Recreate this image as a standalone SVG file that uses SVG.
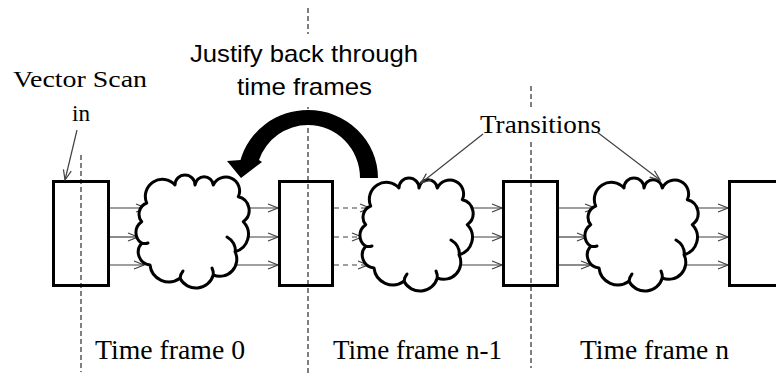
<svg xmlns="http://www.w3.org/2000/svg" xmlns:xlink="http://www.w3.org/1999/xlink" width="776" height="376" viewBox="0 0 776 376">
  <style>
    .box { fill: #ffffff; stroke: #000000; stroke-width: 3; }
    .cloud { fill: #ffffff; stroke: #000000; stroke-width: 3; stroke-linejoin: round; }
    .curl { fill: none; stroke: #000000; stroke-width: 3; stroke-linecap: round; }
    .conn { fill: none; stroke: #404040; stroke-width: 1.2; marker-end: url(#open); }
    .dconn { fill: none; stroke: #404040; stroke-width: 1.2; stroke-dasharray: 5 4; marker-end: url(#open); }
    .frame { fill: none; stroke: #000000; stroke-width: 1; stroke-dasharray: 5 3; }
    .serif { font-family: "Liberation Serif", "Times New Roman", serif; fill: #000000; }
    .sans { font-family: "Liberation Sans", Arial, sans-serif; fill: #000000; }
  </style>
  <defs>
    <marker id="open" markerUnits="userSpaceOnUse" markerWidth="12" markerHeight="10" refX="11" refY="5" orient="auto">
      <path d="M1,1 L11,5 L1,9" fill="none" stroke="#404040" stroke-width="1.2"/>
    </marker>
    <g id="cloudShape">
      <path class="cloud" d="M146.7,203 A17,17 0 0 1 175,185 A10,10 0 0 1 195,185 A9.2,9.2 0 0 1 213.3,185 A13.8,13.8 0 0 1 238.3,196.7 A14,14 0 0 1 243.3,221.7 A18,18 0 0 1 235,251.7 A17,17 0 0 1 213.3,275 A18,18 0 0 1 180,278.3 A19,19 0 0 1 150,265 A13,13 0 0 1 141.7,243.3 A13,13 0 0 1 141.7,221.7 A12,12 0 0 1 146.7,203 Z"/>
      <path class="curl" d="M227,237 A17,17 0 0 1 235.5,252"/>
      <path class="curl" d="M141.7,243.3 Q145,244 148,243"/>
      <path class="curl" d="M180,278.3 Q180.5,274 183,271"/>
      <path class="curl" d="M213.3,275 Q213.5,271 212,268"/>
    </g>
  </defs>
  <rect width="776" height="376" fill="#ffffff"/>

  <g id="connectors">
    <line class="conn" x1="110" y1="208" x2="146" y2="208"/>
    <line class="conn" x1="110" y1="237" x2="138" y2="237"/>
    <line class="conn" x1="110" y1="265" x2="144" y2="265"/>
    <line class="conn" x1="240" y1="208" x2="278" y2="208"/>
    <line class="conn" x1="240" y1="237" x2="278" y2="237"/>
    <line class="conn" x1="222" y1="265" x2="278" y2="265"/>
    <line class="dconn" x1="334" y1="208" x2="370" y2="208"/>
    <line class="dconn" x1="334" y1="237" x2="362" y2="237"/>
    <line class="dconn" x1="334" y1="265" x2="368" y2="265"/>
    <line class="conn" x1="464" y1="208" x2="502" y2="208"/>
    <line class="conn" x1="464" y1="237" x2="502" y2="237"/>
    <line class="conn" x1="446" y1="265" x2="502" y2="265"/>
    <line class="conn" x1="559" y1="208" x2="595" y2="208"/>
    <line class="conn" x1="559" y1="237" x2="587" y2="237"/>
    <line class="conn" x1="559" y1="265" x2="591" y2="265"/>
    <line class="conn" x1="689" y1="208" x2="728" y2="208"/>
    <line class="conn" x1="689" y1="237" x2="728" y2="237"/>
    <line class="conn" x1="676" y1="265" x2="728" y2="265"/>
  </g>

  <g id="box0"><rect class="box" x="53.5" y="181.5" width="55" height="104"/></g>
  <g id="cloud0"><use xlink:href="#cloudShape" href="#cloudShape"/></g>
  <g id="box1"><rect class="box" x="279.5" y="181.5" width="53" height="104"/></g>
  <g id="cloud1"><use xlink:href="#cloudShape" href="#cloudShape" transform="translate(224,3)"/></g>
  <g id="box2"><rect class="box" x="503.5" y="181.5" width="54" height="104"/></g>
  <g id="cloud2"><use xlink:href="#cloudShape" href="#cloudShape" transform="translate(449,3)"/></g>
  <g id="box3"><rect class="box" x="729.5" y="181.5" width="60" height="104"/></g>

  <g id="frame-lines">
    <line class="frame" x1="81" y1="155" x2="81" y2="372"/>
    <line class="frame" x1="308" y1="8" x2="308" y2="376"/>
    <line class="frame" x1="531" y1="86" x2="531" y2="368"/>
  </g>

  <g id="justify-arrow">
    <path d="M360,178 L378,178 A70,68 0 0 0 308,110 A70,68 0 0 0 240.5,160 L227,161 L241,178 L262,162 L259,160 A52,53 0 0 1 308,125 A52,53 0 0 1 360,178 Z" fill="#000000"/>
  </g>

  <g id="justify-label">
    <rect x="186" y="34" width="236" height="73" fill="#ffffff"/>
    <text class="sans" x="190" y="62" font-size="24" textLength="228" lengthAdjust="spacingAndGlyphs">Justify back through</text>
    <text class="sans" x="237" y="95" font-size="24" textLength="135" lengthAdjust="spacingAndGlyphs">time frames</text>
  </g>

  <g id="vector-scan">
    <text class="serif" x="13" y="87" font-size="24" textLength="134" lengthAdjust="spacingAndGlyphs">Vector Scan</text>
    <text class="serif" x="72" y="121" font-size="24" textLength="18" lengthAdjust="spacingAndGlyphs">in</text>
    <line class="conn" x1="77" y1="130" x2="65" y2="180"/>
  </g>

  <g id="transitions">
    <rect x="478" y="107" width="125" height="34" fill="#ffffff"/>
    <text class="serif" x="480" y="133" font-size="26" textLength="121" lengthAdjust="spacingAndGlyphs">Transitions</text>
    <line class="conn" x1="483" y1="134" x2="421" y2="183"/>
    <line class="conn" x1="597" y1="132" x2="660" y2="180"/>
  </g>

  <g id="frame-labels">
    <text class="serif" x="95" y="359" font-size="28" textLength="150" lengthAdjust="spacingAndGlyphs">Time frame 0</text>
    <text class="serif" x="333" y="359" font-size="28" textLength="169" lengthAdjust="spacingAndGlyphs">Time frame n-1</text>
    <text class="serif" x="580" y="359" font-size="28" textLength="149" lengthAdjust="spacingAndGlyphs">Time frame n</text>
  </g>
</svg>
